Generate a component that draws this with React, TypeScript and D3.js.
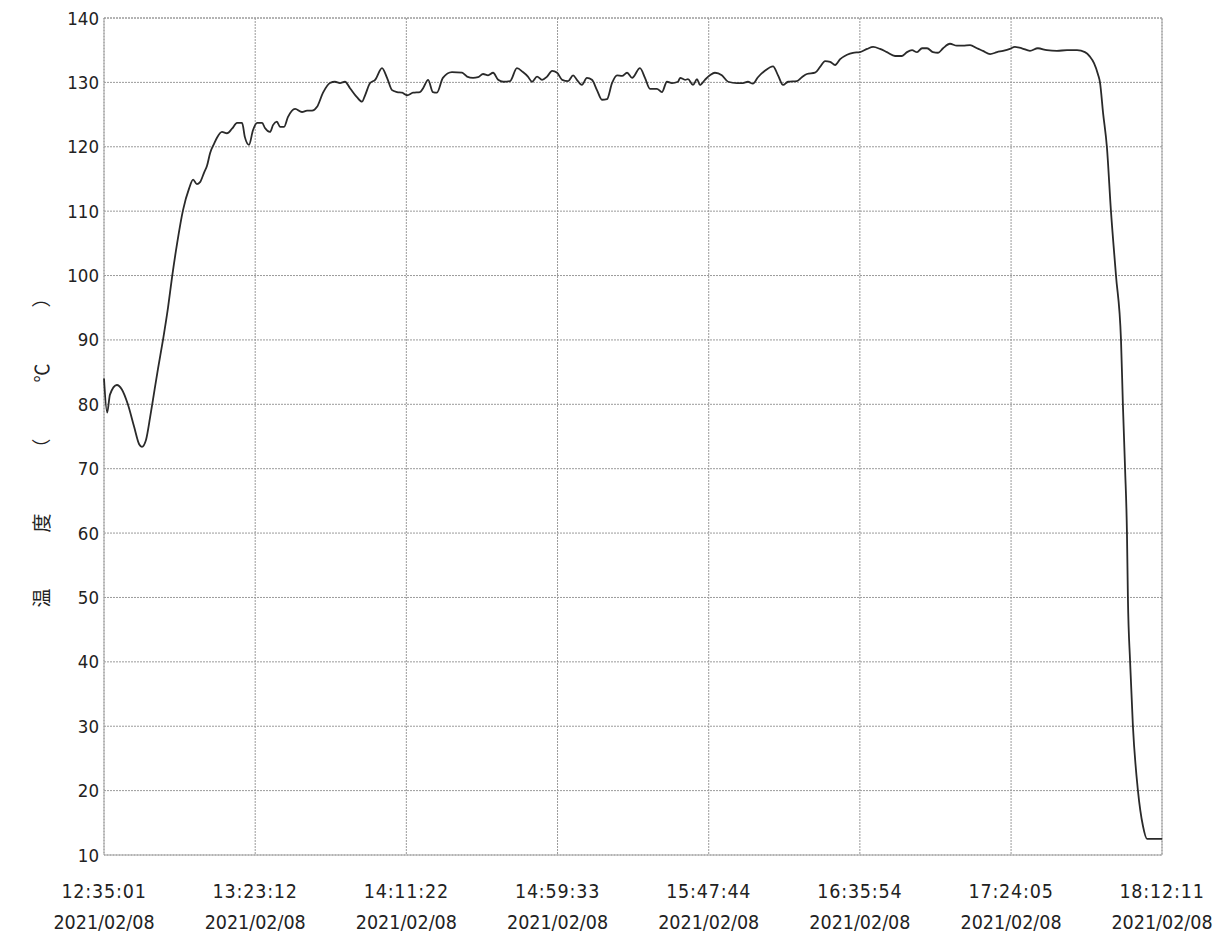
import React from "react";
import * as d3 from "d3";

// elapsed minutes from 12:35:01
const minutes: number[] = [
  0, 1.0, 1.9, 4.1, 5.7, 7.6, 9.6, 11.2, 12.1, 13.4, 14.7, 15.6, 17.2, 18.8, 20.4, 21.7, 23.3, 25.2, 27.1, 28.4,
  29.6, 30.6, 31.9, 32.8, 33.8, 35.1, 36.0, 37.6, 39.2, 40.8, 42.4, 44.0, 44.9, 46.2, 47.5, 48.8, 50.4, 51.3, 52.9, 53.9,
  55.1, 56.1, 57.4, 58.6, 60.9, 63.1, 64.7, 66.3, 67.9, 69.8, 72.0, 73.6, 75.2, 76.8, 78.4, 80.6, 82.2, 83.2, 84.8, 86.4,
  88.6, 90.2, 91.8, 93.4, 95.0, 96.6, 98.5, 100.7, 101.7, 103.3, 104.8, 106.1, 108.0, 110.9, 114.1, 115.7, 117.6, 119.2, 120.8, 122.4,
  124.0, 125.6, 127.2, 129.4, 131.6, 133.5, 135.1, 136.4, 138.0, 139.6, 141.2, 142.8, 144.4, 146.0, 147.9, 149.5, 150.7, 152.3, 153.9, 155.5,
  157.1, 158.7, 160.3, 161.9, 163.5, 165.1, 166.7, 168.3, 170.8, 172.4, 174.0, 176.2, 177.8, 179.4, 181.0, 182.9, 183.6, 185.2, 186.1, 187.7,
  189.0, 189.9, 191.5, 193.1, 194.7, 196.9, 198.9, 201.7, 203.6, 205.2, 206.8, 208.4, 210.6, 213.2, 214.8, 216.4, 218.0, 220.8, 222.4, 224.0,
  226.6, 228.2, 229.8, 231.4, 233.0, 234.6, 236.8, 238.7, 240.9, 243.2, 245.1, 247.3, 249.5, 252.1, 254.3, 255.9, 257.5, 259.1, 260.7, 262.3,
  264.2, 265.8, 267.4, 269.6, 271.8, 273.7, 276.0, 278.2, 280.1, 282.4, 284.6, 286.5, 288.7, 290.3, 292.5, 295.1, 297.6, 300.5, 303.7, 306.9,
  310.1, 312.6, 314.2, 315.5, 316.8, 317.4, 318.4, 319.6, 320.9, 322.5, 324.1, 324.7, 325.4, 326.0, 326.3, 327.0, 327.9, 329.5, 331.1, 332.4,
  337.2,
];

// temperature (°C)
const temperatures: number[] = [
  84.0, 78.7, 81.5, 83.0, 82.3, 80.0, 76.5, 73.8, 73.4, 74.5, 78.0, 80.7, 85.5, 90.0, 95.0, 99.8, 105.0, 110.2, 113.5, 114.9,
  114.2, 114.5, 116.0, 117.0, 119.0, 120.5, 121.4, 122.3, 122.1, 122.8, 123.7, 123.7, 121.5, 120.3, 122.6, 123.7, 123.7, 122.9, 122.3, 123.4,
  123.9, 123.1, 123.1, 124.6, 125.9, 125.4, 125.6, 125.6, 126.2, 128.4, 129.9, 130.1, 129.9, 130.1, 129.1, 127.7, 127.0, 128.0, 129.9, 130.4,
  132.2, 130.7, 128.8, 128.5, 128.4, 128.0, 128.4, 128.5, 129.1, 130.4, 128.5, 128.4, 130.7, 131.6, 131.5, 130.9, 130.7, 130.8, 131.3, 131.1,
  131.5, 130.4, 130.1, 130.2, 132.2, 131.6, 130.9, 130.1, 130.9, 130.4, 130.9, 131.8, 131.5, 130.4, 130.2, 131.1, 130.4, 129.6, 130.7, 130.4,
  128.8, 127.3, 127.4, 129.9, 131.1, 131.0, 131.5, 130.7, 132.2, 130.7, 129.0, 129.0, 128.5, 130.1, 129.9, 130.1, 130.7, 130.4, 130.5, 129.6,
  130.5, 129.6, 130.4, 131.1, 131.5, 131.1, 130.1, 129.9, 129.9, 130.1, 129.8, 130.8, 131.8, 132.5, 131.1, 129.6, 130.1, 130.2, 130.8, 131.3,
  131.5, 132.4, 133.3, 133.2, 132.7, 133.6, 134.3, 134.6, 134.7, 135.2, 135.5, 135.2, 134.7, 134.1, 134.1, 134.7, 135.0, 134.7, 135.3, 135.3,
  134.7, 134.6, 135.3, 136.0, 135.7, 135.7, 135.8, 135.3, 134.9, 134.4, 134.7, 134.9, 135.2, 135.5, 135.3, 134.9, 135.3, 135.0, 134.9, 135.0,
  135.0, 134.7, 134.0, 133.0, 131.2, 130.0, 125.2, 120.0, 110.0, 100.0, 90.0, 80.0, 70.0, 60.0, 50.0, 40.0, 30.0, 20.0, 14.5, 12.5,
  12.5,
];

const tickTimes: string[] = ["12:35:01", "13:23:12", "14:11:22", "14:59:33", "15:47:44", "16:35:54", "17:24:05", "18:12:11"];
const tickDate = "2021/02/08";
const yTicks: number[] = [10, 20, 30, 40, 50, 60, 70, 80, 90, 100, 110, 120, 130, 140];
const yTitleChars: string[] = ["温", "度", "（", "℃", "）"];

const W = 1229;
const H = 942;
const left = 104;
const right = 1162;
const top = 18;
const bottom = 855;

const toSec = (s: string) => {
  const [h, m, sec] = s.split(":").map(Number);
  return h * 3600 + m * 60 + sec;
};
const startSec = toSec(tickTimes[0]);
const tickMinutes = tickTimes.map((t) => (toSec(t) - startSec) / 60);

export default function App() {
  const x = d3.scaleLinear().domain([0, tickMinutes[tickMinutes.length - 1]]).range([left, right]);
  const y = d3.scaleLinear().domain([10, 140]).range([bottom, top]);
  const pts: [number, number][] = minutes.map((m, i) => [m, temperatures[i]]);
  const line = d3
    .line<[number, number]>()
    .x((d) => x(d[0]))
    .y((d) => y(d[1]))
    .curve(d3.curveMonotoneX);

  const gridColor = "#9a9a9a";
  const font = "'DejaVu Sans Condensed', 'DejaVu Sans', sans-serif";

  return (
    <svg
      width={W}
      height={H}
      style={{ position: "absolute", left: 0, top: 0, display: "block", background: "#fff" }}
    >
      <rect x={0} y={0} width={W} height={H} fill="#fff" />
      {yTicks.map((t) => (
        <line key={"h" + t} x1={left} x2={right} y1={y(t)} y2={y(t)} stroke={gridColor} strokeWidth={1} strokeDasharray="2 1" />
      ))}
      {tickMinutes.map((m, i) => (
        <line key={"v" + i} x1={x(m)} x2={x(m)} y1={top} y2={bottom} stroke={gridColor} strokeWidth={1} strokeDasharray="2 1" />
      ))}
      <rect x={left} y={top} width={right - left} height={bottom - top} fill="none" stroke={gridColor} strokeWidth={1} strokeDasharray="2 1" />
      <path d={line(pts) || ""} fill="none" stroke="#2a2a2a" strokeWidth={1.8} strokeLinejoin="round" />
      {yTicks.map((t) => (
        <text key={"yl" + t} x={99} y={y(t)} textAnchor="end" dominantBaseline="central" fontFamily={font} fontSize={18.5} fill="#222">
          {t}
        </text>
      ))}
      {tickTimes.map((t, i) => (
        <g key={"xl" + i}>
          <text x={x(tickMinutes[i])} y={891} textAnchor="middle" dominantBaseline="central" fontFamily={font} fontSize={19.5} letterSpacing={0.8} fill="#222">
            {t.replace(/:/g, " : ").replace(/ /g, "")}
          </text>
          <text x={x(tickMinutes[i])} y={922} textAnchor="middle" dominantBaseline="central" fontFamily={font} fontSize={19.5} fill="#222">
            {tickDate}
          </text>
        </g>
      ))}
      {yTitleChars.map((c, i) => (
        <text
          key={"yt" + i}
          transform={`translate(40,${598 - i * 75}) rotate(-90)`}
          textAnchor="middle"
          dominantBaseline="central"
          fontFamily="'Noto Sans CJK JP', sans-serif"
          fontSize={19}
          fill="#222"
        >
          {c}
        </text>
      ))}
    </svg>
  );
}
